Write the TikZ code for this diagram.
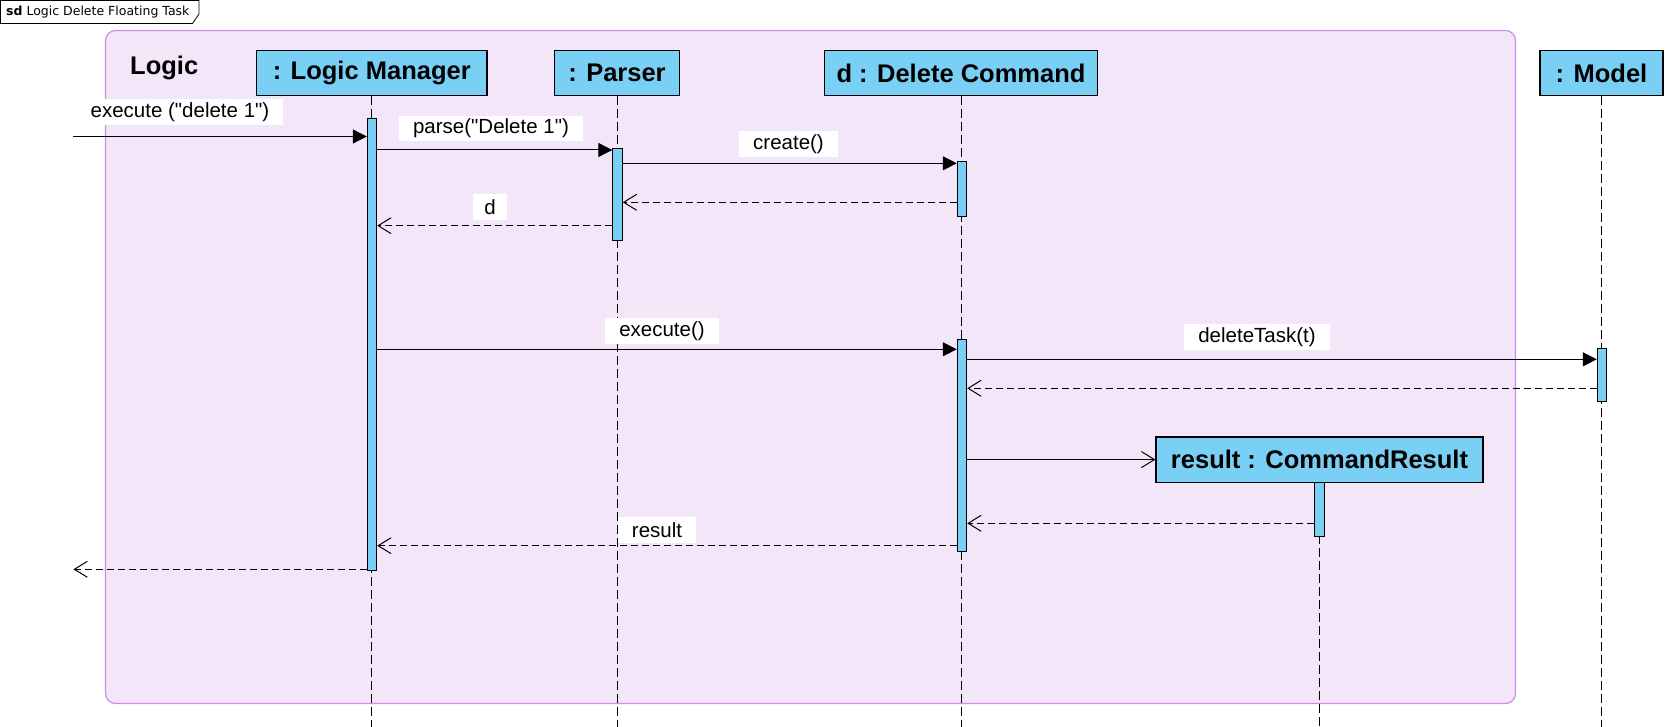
\documentclass[tikz,border=0pt]{standalone}
\usepackage{fontspec}
\setmainfont{Liberation Sans}[Ligatures=TeXOff]
\newfontfamily\tabfont{DejaVu Sans}
\usetikzlibrary{arrows.meta}
\definecolor{boxblue}{RGB}{122,207,245}
\definecolor{pkgfill}{RGB}{243,230,248}
\definecolor{pkgdraw}{RGB}{204,140,232}
\begin{document}
\begin{tikzpicture}[x=1pt,y=-1pt,
  lbox/.style={draw=black, fill=boxblue, line width=1.2pt, minimum height=44.5pt, inner sep=0pt,
    font=\bfseries\fontsize{25.5}{30}\selectfont},
  act/.style={draw=black, fill=boxblue, line width=0.9pt, minimum width=9.5pt, inner sep=0pt},
  life/.style={line width=0.9pt, dash pattern=on 9pt off 4pt},
  msg/.style={line width=1pt, -{Triangle[length=14pt,width=14pt]}},
  ret/.style={line width=1pt, dash pattern=on 7pt off 4pt, -{Straight Barb[length=13pt,width=16pt,line width=1pt]}},
  cre/.style={line width=1pt, -{Straight Barb[length=13pt,width=16pt,line width=1pt]}},
  lbl/.style={fill=white, inner xsep=14pt, inner ysep=0pt, minimum height=25.5pt,
    font=\fontsize{20.5}{24}\selectfont}]
\useasboundingbox (0,0) rectangle (1668,727);
% frame tab
\draw[line width=0.8pt] (0.5,0.5) -- (199,0.5) -- (199,14) -- (192.5,23.5) -- (0.5,23.5) -- cycle;
\node[anchor=west, inner sep=0pt] (tab) at (6,12.5) {\tabfont\fontsize{12.5}{14}\selectfont\textbf{sd} Logic Delete Floating Task};
% package
\draw[fill=pkgfill, draw=pkgdraw, line width=1.2pt, rounded corners=10pt] (105.5,30.5) rectangle (1515.5,703.5);
\node[anchor=base west, inner sep=0pt, font=\bfseries\fontsize{25.5}{30}\selectfont] (logic) at (130,75) {Logic};
% lifeline heads
\node[lbox, minimum width=230.5pt] (lm) at (371.75,73) {: Logic Manager};
\node[lbox, minimum width=125.6pt] (pa) at (617,73) {: Parser};
\node[lbox, minimum width=273.4pt] (dc) at (961,73) {d : Delete Command};
\node[lbox, minimum width=123pt] (mo) at (1601.5,73) {: Model};
\node[lbox, minimum width=327pt, minimum height=45.3pt] (cr) at (1319.5,459.6) {result : CommandResult};
% lifelines
\coordinate (bot) at (0,727);
\draw[life] (lm.south) -- (lm.south |- bot);
\draw[life] (pa.south) -- (pa.south |- bot);
\draw[life] (dc.south) -- (dc.south |- bot);
\draw[life] (mo.south) -- (mo.south |- bot);
\draw[life] (cr.south) -- (cr.south |- bot);
% activations
\node[act, minimum height=452pt] (lma) at (372,344) {};
\node[act, minimum height=91.7pt] (paa) at (617.5,194.2) {};
\node[act, minimum height=54.3pt] (dca) at (962,188.9) {};
\node[act, minimum height=211.7pt] (dcb) at (962,445.2) {};
\node[act, minimum height=52.7pt] (moa) at (1602,374.7) {};
\node[act, minimum height=54.4pt] (cra) at (1319.5,509.5) {};
% message levels
\coordinate (found) at (73.4,136.5);
\coordinate (y2) at (0,150);
\coordinate (y3) at (0,163.3);
\coordinate (y4) at (0,202.3);
\coordinate (y5) at (0,225.7);
\coordinate (y6) at (0,349.3);
\coordinate (y7) at (0,359.3);
\coordinate (y8) at (0,388.3);
\coordinate (y10) at (0,523.3);
\coordinate (y11) at (0,545.7);
\coordinate (lost) at (73.4,569.3);
% messages
\draw[msg] (found) -- (lma.west |- found);
\draw[msg] (lma.east |- y2) -- (paa.west |- y2);
\draw[msg] (paa.east |- y3) -- (dca.west |- y3);
\draw[ret] (dca.west |- y4) -- (paa.east |- y4);
\draw[ret] (paa.west |- y5) -- (lma.east |- y5);
\draw[msg] (lma.east |- y6) -- (dcb.west |- y6);
\draw[msg] (dcb.east |- y7) -- (moa.west |- y7);
\draw[ret] (moa.west |- y8) -- (dcb.east |- y8);
\draw[cre] (dcb.east |- cr.west) -- (cr.west);
\draw[ret] (cra.west |- y10) -- (dcb.east |- y10);
\draw[ret] (dcb.west |- y11) -- (lma.east |- y11);
\draw[ret] (lma.west |- lost) -- (lost);
% labels
\node[lbl] (l1) at (180,112) {execute ("delete 1")};
\node[lbl] (l2) at (491,128.7) {parse("Delete 1")};
\node[lbl] (l3) at (788.5,144) {create()};
\node[lbl, inner xsep=11pt] (l4) at (490,207) {d};
\node[lbl] (l5) at (662,331) {execute()};
\node[lbl] (l6) at (1257,337) {deleteTask(t)};
\node[lbl] (l7) at (657,530) {result};
\end{tikzpicture}
\end{document}
